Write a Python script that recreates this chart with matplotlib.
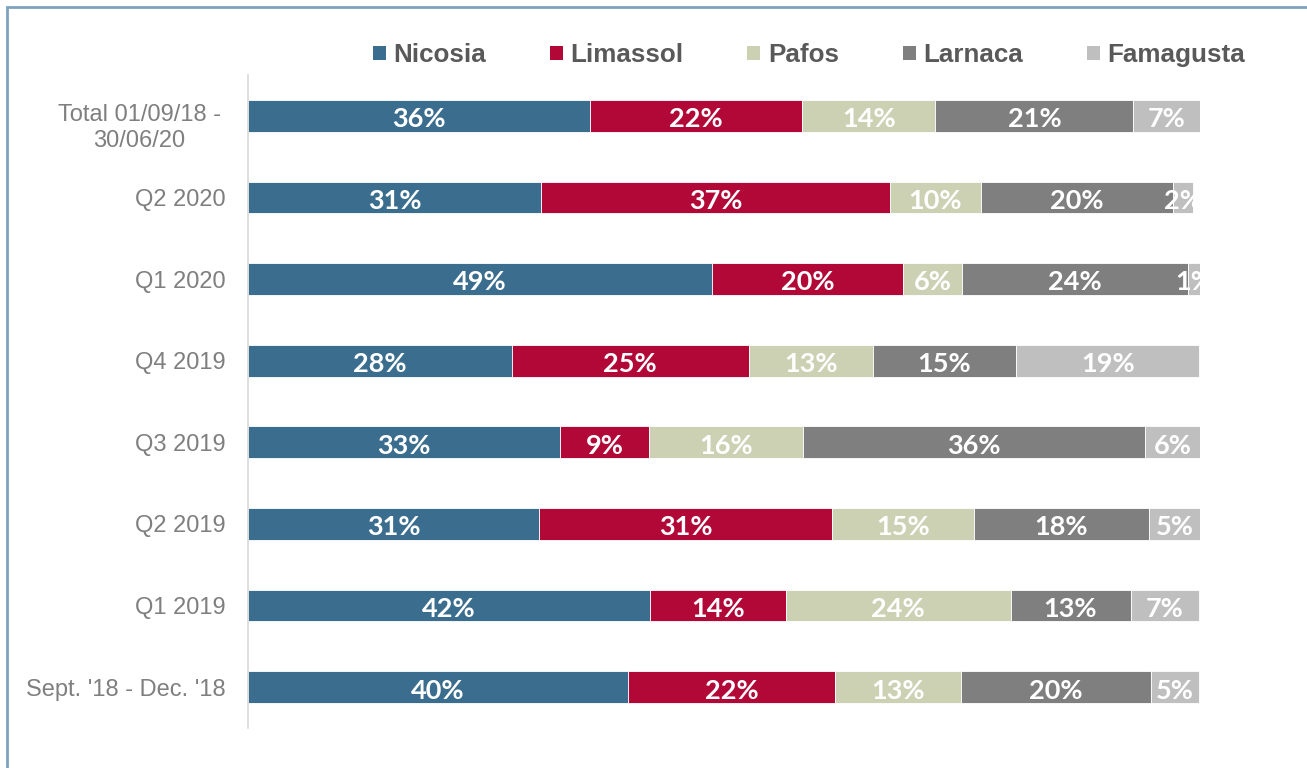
import matplotlib.pyplot as plt
import numpy as np
from matplotlib.patches import Patch, Rectangle
from matplotlib.transforms import ScaledTranslation

# Share of cases per district, by period (percent)
periods = ['Total 01/09/18 -\n30/06/20', 'Q2 2020', 'Q1 2020', 'Q4 2019',
           'Q3 2019', 'Q2 2019', 'Q1 2019', "Sept. '18 - Dec. '18"]
districts = ['Nicosia', 'Limassol', 'Pafos', 'Larnaca', 'Famagusta']

nicosia = [35.9, 30.8, 48.7, 27.7, 32.8, 30.6, 42.2, 39.9]
limassol = [22.3, 36.6, 20.1, 24.9, 9.3, 30.7, 14.3, 21.8]
pafos = [14.0, 9.6, 6.2, 13.0, 16.2, 15.0, 23.6, 13.2]
larnaca = [20.8, 20.2, 23.7, 15.1, 35.9, 18.3, 12.6, 20.0]
famagusta = [7.0, 2.1, 1.3, 19.2, 5.8, 5.4, 7.2, 5.0]

colors = ['#3b6e8e', '#b20837', '#cdd1b4', '#7f7f7f', '#bfbfbf']

fig = plt.figure(figsize=(13.07, 7.68), dpi=100)
ax = fig.add_axes([248 / 1307, 1 - 728 / 768, 952 / 1307, 653 / 768])

y = np.arange(len(periods))
left = np.zeros(len(periods))
for name, vals, col in zip(districts, [nicosia, limassol, pafos, larnaca, famagusta], colors):
    vals = np.array(vals)
    bars = ax.barh(y, vals, left=left, height=0.39, color=col,
                   edgecolor='white', linewidth=0.6)
    anns = ax.bar_label(bars, labels=[f'{v:.0f}%' for v in vals], label_type='center',
                        color='white', fontsize=19.5, fontweight='bold', family='Lato')
    for a in anns:
        a.xyann = (0, -2.4)
    left += vals

ax.set_xlim(0, 100)
ax.set_ylim(len(periods) - 0.5, -0.5)
ax.set_xticks([])
ax.set_yticks(y)
ax.set_yticklabels(periods, fontsize=17, color='#7f7f7f', family='Liberation Sans',
                   multialignment='center')
ax.tick_params(axis='y', length=0, pad=16)
for s in ['top', 'right', 'bottom']:
    ax.spines[s].set_visible(False)
ax.spines['left'].set_color('#d9d9d9')
ax.spines['left'].set_linewidth(1.2)

# two-line label sits a little lower than its bar
lab = ax.get_yticklabels()[0]
lab.set_transform(lab.get_transform() + ScaledTranslation(-0.05, -0.08, fig.dpi_scale_trans))

handles = [Patch(facecolor=c, edgecolor='none', label=n) for n, c in zip(districts, colors)]
fig.legend(handles=handles, loc='center', bbox_to_anchor=(0.619, 0.928), ncol=5,
           frameon=False, handlelength=0.5, handleheight=0.5, handletextpad=0.3,
           columnspacing=2.45,
           prop={'family': 'Liberation Sans', 'weight': 'bold', 'size': 18.7},
           labelcolor='#595959')

# outer frame (only top and left edges fall inside the image)
fig.add_artist(Rectangle((6.5 / 1307, -0.1), 1.2, 1.1 - 6.5 / 768,
                         transform=fig.transFigure, fill=False,
                         edgecolor='#7fa3be', linewidth=2))

fig.savefig('out.png', dpi=100)
